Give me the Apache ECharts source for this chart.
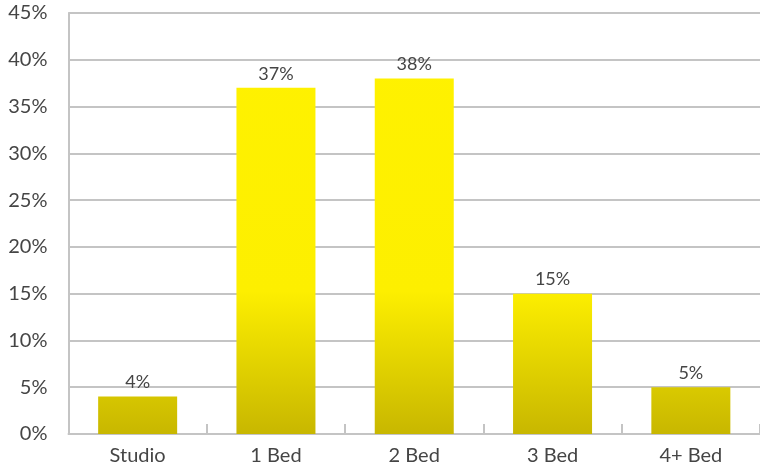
<!DOCTYPE html>
<html><head><meta charset="utf-8">
<script src="https://cdn.jsdelivr.net/npm/echarts@6/dist/echarts.min.js"></script>
<style>html,body{margin:0;padding:0;background:#fff}#c{width:760px;height:469px}</style>
</head><body><div id="c"></div>
<script>
const categories = ['Studio', '1 Bed', '2 Bed', '3 Bed', '4+ Bed'];
const values = [4, 37, 38, 15, 5];
const yTicks = [0, 5, 10, 15, 20, 25, 30, 35, 40, 45];

const chart = echarts.init(document.getElementById('c'));
chart.setOption({
  animation: false,
  grid: { left: 68.5, top: 13, width: 697, bottom: 35, containLabel: false },
  xAxis: {
    type: 'category', data: categories,
    axisLine: { lineStyle: { color: '#c4c4c4', width: 2 } },
    axisTick: { show: true, inside: true, length: 10, lineStyle: { color: '#c4c4c4', width: 2 } },
    axisLabel: { color: '#454545', fontFamily: 'Lato', fontSize: 20, margin: 12 }
  },
  yAxis: {
    type: 'value', min: yTicks[0], max: yTicks[yTicks.length - 1], interval: 5,
    axisLine: { show: true, lineStyle: { color: '#c4c4c4', width: 2 } },
    axisTick: { show: false },
    splitLine: { lineStyle: { color: '#c4c4c4', width: 2 } },
    axisLabel: { color: '#454545', fontFamily: 'Lato', fontSize: 20, margin: 21, formatter: v => v + '%' }
  },
  series: [{
    type: 'bar', data: values, barWidth: 79,
    itemStyle: {
      color: new echarts.graphic.LinearGradient(0, 13, 0, 434, [
        { offset: 0, color: '#FFF200' },
        { offset: 0.66, color: '#FDEF00' },
        { offset: 1, color: '#C8B700' }
      ], true)
    },
    label: { show: true, position: 'top', distance: 5, color: '#454545', fontFamily: 'Lato', fontSize: 18, formatter: p => p.value + '%' }
  }]
});
</script></body></html>
